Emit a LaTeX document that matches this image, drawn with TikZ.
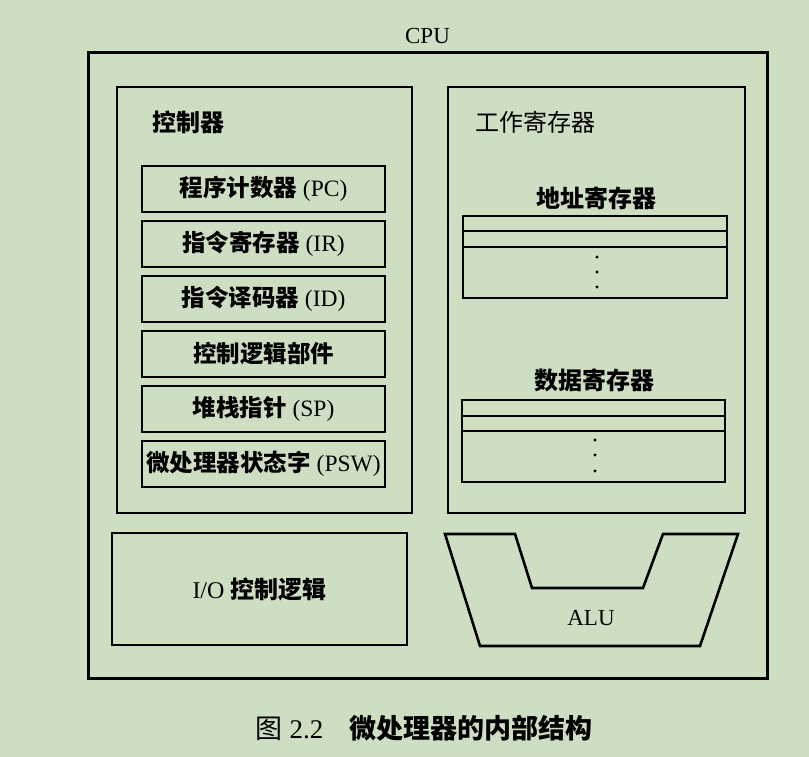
\documentclass[tikz,border=0pt]{standalone}
\usepackage{fontspec}
\setmainfont{Liberation Serif}
\newfontfamily\cjk{Noto Sans CJK SC}
\usepackage{tikz}
\usetikzlibrary{positioning}
\definecolor{Fondo}{RGB}{206,222,195}
\newcommand{\zh}[1]{{\cjk\bfseries #1}}
\newcommand{\zhr}[1]{{\cjk #1}}

\begin{document}
\begin{tikzpicture}[x=1pt, y=-1pt,
        caja/.style={rectangle, draw=black, line width=2.6pt, inner sep=0pt},
        registro/.style={caja, minimum width=243pt, minimum height=46pt, font=\fontsize{23.5}{26}\selectfont},
        pila/.style={caja, minimum width=264pt, minimum height=82pt},
        titulo/.style={inner sep=0pt, font=\fontsize{24}{27}\selectfont},
        fila/.style={line width=2.4pt, draw=black}
    ]
        % Fondo y tamaño fijo de la figura
        \fill[Fondo] (0,0) rectangle (809,757);
        \useasboundingbox (0,0) rectangle (809,757);

        % Caja exterior de la CPU con su rótulo
        \node[caja, line width=3pt, minimum width=679pt, minimum height=625pt] (cpu) at (427.5,365.5) {};
        \node[titulo, font=\fontsize{23}{26}\selectfont, above=8pt of cpu] (tcpu) {CPU};

        % Controlador (izquierda)
        \node[caja, minimum width=295pt, minimum height=426pt] (ctrl) at (264.5,300) {};
        \node[titulo, anchor=west] (tctrl) at (152,122) {\zh{控制器}};
        \foreach \txt [count=\i from 0] in {{\zh{程序计数器} (PC)}, {\zh{指令寄存器} (IR)}, {\zh{指令译码器} (ID)}, {\zh{控制逻辑部件}}, {\zh{堆栈指针} (SP)}, {\zh{微处理器状态字} (PSW)}}
            \node[registro] (r\i) at (263.5,{189+55*\i}) {\txt};

        % Registros de trabajo (derecha)
        \node[caja, minimum width=297pt, minimum height=426pt] (trab) at (596.5,300) {};
        \node[titulo, anchor=west] (ttrab) at (475,122) {\zhr{工作寄存器}};

        \node[titulo] (tdir) at (596,198) {\zh{地址寄存器}};
        \node[pila] (dir) at (595,257) {};
        \draw[fila] ([yshift=-16pt]dir.north west) -- ([yshift=-16pt]dir.north east);
        \draw[fila] ([yshift=-32pt]dir.north west) -- ([yshift=-32pt]dir.north east);
        \foreach \d in {257,272,287}
            \fill (597,\d) circle [radius=1.7pt];

        \node[titulo] (tdat) at (594,380) {\zh{数据寄存器}};
        \node[pila, minimum width=263pt] (dat) at (593.5,441) {};
        \draw[fila] ([yshift=-17pt]dat.north west) -- ([yshift=-17pt]dat.north east);
        \draw[fila] ([yshift=-32pt]dat.north west) -- ([yshift=-32pt]dat.north east);
        \foreach \d in {440,455,471}
            \fill (595,\d) circle [radius=1.7pt];

        % Lógica de E/S y ALU
        \node[caja, minimum width=295pt, minimum height=112pt, font=\fontsize{24}{27}\selectfont] (io) at (259.5,589) {I/O \zh{控制逻辑}};
        \draw[line width=2.6pt, line join=miter] (445,534) -- (515,534) -- (532,588) -- (643,588) -- (663,534) -- (738,534) -- (700,646) -- (480,646) -- cycle;
        \node[titulo, font=\fontsize{23}{26}\selectfont] (alu) at (591,618) {ALU};

        % Pie de figura
        \node[titulo, font=\fontsize{27}{30}\selectfont] (pie) at (424,728) {\zhr{图} 2.2\hspace{26pt}\zh{微处理器的内部结构}};
    \end{tikzpicture}
\end{document}
